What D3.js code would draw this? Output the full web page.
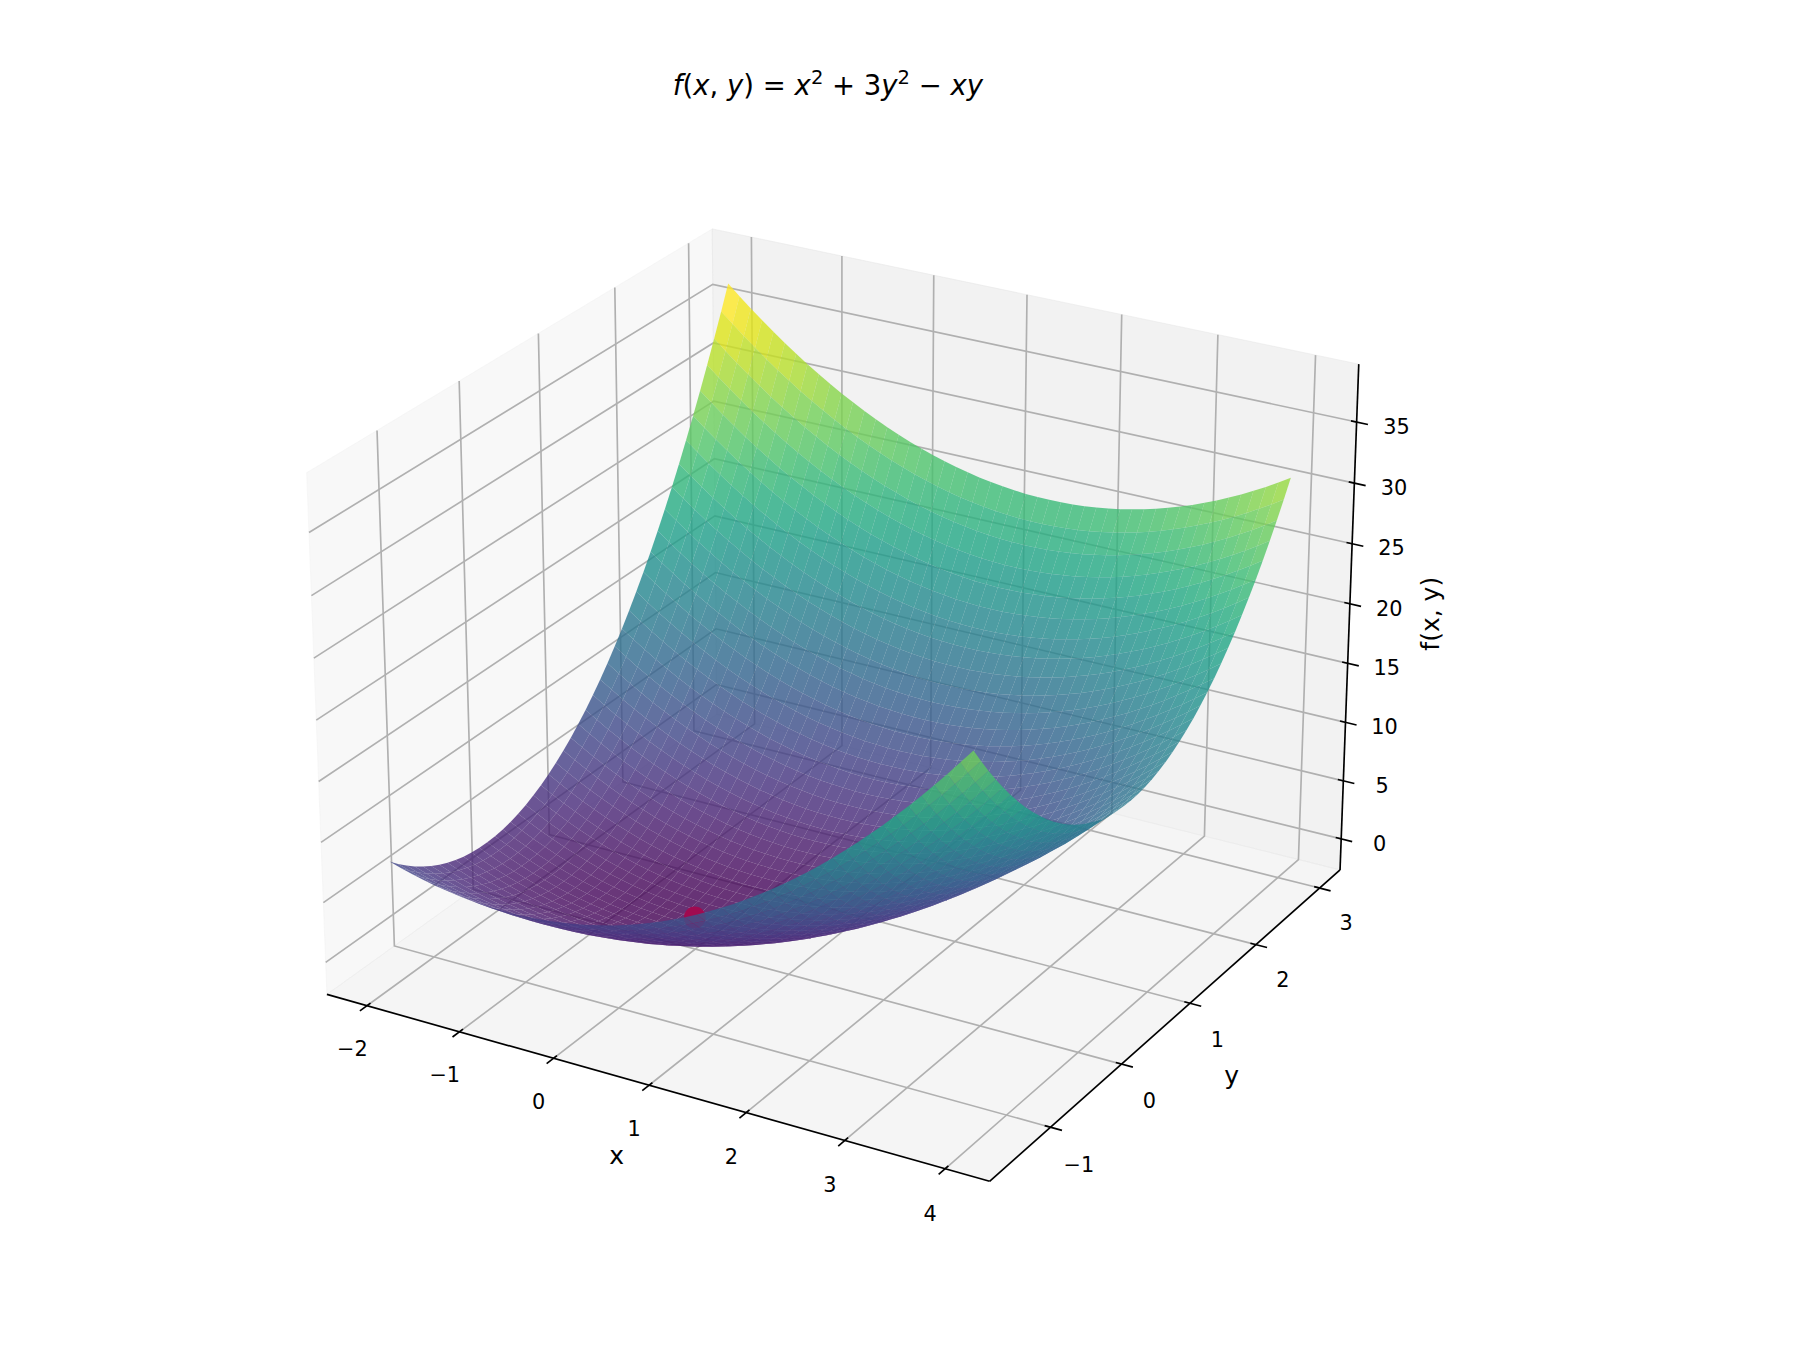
<!DOCTYPE html>
<html><head><meta charset="utf-8">
<style>html,body{margin:0;background:#fff}svg{display:block}text{font-family:"DejaVu Sans";fill:#000}</style>
<script src="https://d3js.org/d3.v7.min.js"></script></head><body>
<svg id="c" width="1800" height="1350"></svg>
<script>
const xGrid=[-2,-1.875,-1.75,-1.625,-1.5,-1.375,-1.25,-1.125,-1,-.875,-.75,-.625,-.5,-.375,-.25,-.125,0,.125,.25,.375,.5,.625,.75,.875,1,1.125,1.25,1.375,1.5,1.625,1.75,1.875,2,2.125,2.25,2.375,2.5,2.625,2.75,2.875,3,3.125,3.25,3.375,3.5,3.625,3.75,3.875,4];
const yGrid=[-1.5,-1.4,-1.3,-1.2,-1.1,-1,-.9,-.8,-.7,-.6,-.5,-.4,-.3,-.2,-.1,0,.1,.2,.3,.4,.5,.6,.7,.8,.9,1,1.1,1.2,1.3,1.4,1.5,1.6,1.7,1.8,1.9,2,2.1,2.2,2.3,2.4,2.5,2.6,2.7,2.8,2.9,3];
const zGrid=[
[7.75,7.45,7.19,6.95,6.75,6.58,6.44,6.33,6.25,6.2,6.19,6.2,6.25,6.33,6.44,6.58,6.75,6.95,7.19,7.45,7.75,8.08,8.44,8.83,9.25,9.7,10.19,10.7,11.25,11.83,12.44,13.08,13.75,14.45,15.19,15.95,16.75,17.58,18.44,19.33,20.25,21.2,22.19,23.2,24.25,25.33,26.44,27.58,28.75],
[7.08,6.77,6.49,6.25,6.03,5.85,5.69,5.57,5.48,5.42,5.39,5.4,5.43,5.5,5.59,5.72,5.88,6.07,6.29,6.55,6.83,7.15,7.49,7.87,8.28,8.72,9.19,9.7,10.23,10.8,11.39,12.02,12.68,13.37,14.09,14.85,15.63,16.45,17.29,18.17,19.08,20.02,20.99,22,23.03,24.1,25.19,26.32,27.48],
[6.47,6.15,5.86,5.6,5.37,5.17,5.01,4.87,4.77,4.7,4.66,4.65,4.67,4.72,4.81,4.93,5.07,5.25,5.46,5.7,5.97,6.27,6.61,6.97,7.37,7.8,8.26,8.75,9.27,9.83,10.41,11.02,11.67,12.35,13.06,13.8,14.57,15.37,16.21,17.07,17.97,18.9,19.86,20.85,21.87,22.93,24.01,25.12,26.27],
[5.92,5.59,5.28,5.01,4.77,4.56,4.38,4.24,4.12,4.04,3.98,3.96,3.97,4.01,4.08,4.19,4.32,4.49,4.68,4.91,5.17,5.46,5.78,6.14,6.52,6.94,7.38,7.86,8.37,8.91,9.48,10.09,10.72,11.39,12.08,12.81,13.57,14.36,15.18,16.04,16.92,17.84,18.78,19.76,20.77,21.81,22.88,23.99,25.12],
[5.43,5.08,4.77,4.49,4.23,4.01,3.83,3.67,3.53,3.43,3.37,3.33,3.33,3.36,3.42,3.51,3.63,3.79,3.97,4.18,4.43,4.71,5.02,5.36,5.73,6.13,6.57,7.03,7.53,8.06,8.62,9.21,9.83,10.48,11.17,11.88,12.63,13.41,14.22,15.06,15.93,16.83,17.77,18.73,19.73,20.76,21.82,22.91,24.03],
[5,4.64,4.31,4.02,3.75,3.52,3.31,3.14,3,2.89,2.81,2.77,2.75,2.77,2.81,2.89,3,3.14,3.31,3.52,3.75,4.02,4.31,4.64,5,5.39,5.81,6.27,6.75,7.27,7.81,8.39,9,9.64,10.31,11.02,11.75,12.52,13.31,14.14,15,15.89,16.81,17.77,18.75,19.77,20.81,21.89,23],
[4.63,4.26,3.92,3.61,3.33,3.09,2.87,2.69,2.53,2.41,2.32,2.26,2.23,2.23,2.26,2.33,2.43,2.56,2.71,2.91,3.13,3.38,3.67,3.98,4.33,4.71,5.12,5.56,6.03,6.54,7.07,7.64,8.23,8.86,9.52,10.21,10.93,11.68,12.47,13.28,14.13,15,15.92,16.86,17.83,18.83,19.87,20.93,22.03],
[4.32,3.94,3.59,3.27,2.97,2.71,2.48,2.29,2.12,1.99,1.88,1.81,1.77,1.76,1.78,1.84,1.92,2.04,2.18,2.36,2.57,2.81,3.08,3.39,3.72,4.09,4.48,4.91,5.37,5.86,6.38,6.94,7.52,8.14,8.78,9.46,10.17,10.91,11.68,12.49,13.32,14.19,15.08,16.01,16.97,17.96,18.98,20.04,21.12],
[4.07,3.67,3.31,2.98,2.67,2.39,2.15,1.94,1.77,1.62,1.5,1.42,1.37,1.35,1.36,1.41,1.47,1.58,1.71,1.87,2.07,2.3,2.56,2.85,3.17,3.53,3.91,4.32,4.77,5.25,5.76,6.31,6.87,7.48,8.11,8.78,9.47,10.2,10.95,11.74,12.57,13.42,14.3,15.2,16.17,17.14,18.15,19.19,20.27],
[3.88,3.48,3.11,2.76,2.43,2.14,1.89,1.66,1.48,1.3,1.19,1.09,1.03,.99,1,1.03,1.08,1.17,1.29,1.45,1.63,1.85,2.1,2.38,2.68,3.02,3.4,3.8,4.23,4.69,5.19,5.72,6.28,6.87,7.49,8.14,8.83,9.55,10.29,11.07,11.88,12.72,13.59,14.49,15.43,16.39,17.38,18.41,19.48],
[3.75,3.33,2.94,2.58,2.25,1.95,1.69,1.45,1.25,1.08,.94,.83,.75,.7,.69,.7,.75,.83,.94,1.08,1.25,1.45,1.69,1.95,2.25,2.58,2.94,3.33,3.75,4.2,4.69,5.2,5.75,6.33,6.94,7.58,8.25,8.95,9.69,10.45,11.25,12.08,12.94,13.83,14.75,15.7,16.69,17.7,18.75],
[3.68,3.25,2.85,2.47,2.13,1.82,1.54,1.28,1.08,.89,.74,.62,.53,.47,.44,.45,.48,.56,.66,.79,.93,1.12,1.34,1.58,1.88,2.19,2.54,2.92,3.33,3.77,4.24,4.74,5.28,5.85,6.44,7.07,7.73,8.42,9.14,9.89,10.68,11.49,12.34,13.22,14.13,15.07,16.04,17.04,18.08],
[3.67,3.23,2.82,2.44,2.08,1.75,1.45,1.18,.97,.77,.61,.47,.37,.3,.25,.24,.27,.32,.42,.54,.67,.85,1.05,1.29,1.57,1.87,2.21,2.57,2.97,3.4,3.86,4.35,4.87,5.43,6.01,6.63,7.27,7.95,8.65,9.39,10.17,10.97,11.8,12.67,13.57,14.5,15.46,16.45,17.47],
[3.72,3.27,2.84,2.45,2.07,1.74,1.43,1.16,.92,.72,.53,.37,.27,.18,.12,.1,.12,.16,.24,.36,.47,.64,.83,1.06,1.32,1.6,1.93,2.28,2.67,3.08,3.53,4,4.52,5.07,5.63,6.24,6.87,7.54,8.23,8.96,9.72,10.52,11.33,12.19,13.07,14,14.94,15.92,16.92],
[3.83,3.36,2.92,2.51,2.13,1.79,1.47,1.19,.93,.71,.52,.36,.23,.14,.07,.04,.03,.06,.12,.21,.33,.49,.67,.89,1.13,1.41,1.72,2.06,2.43,2.84,3.27,3.74,4.23,4.76,5.32,5.91,6.53,7.19,7.87,8.59,9.33,10.11,10.92,11.76,12.63,13.54,14.47,15.44,16.43],
[4,3.52,3.06,2.64,2.25,1.89,1.56,1.27,1,.77,.56,.39,.25,.14,.06,.02,0,.02,.06,.14,.25,.39,.56,.77,1,1.27,1.56,1.89,2.25,2.64,3.06,3.52,4,4.52,5.06,5.64,6.25,6.89,7.56,8.27,9,9.77,10.56,11.39,12.25,13.14,14.06,15.02,16],
[4.23,3.74,3.27,2.84,2.43,2.06,1.72,1.41,1.13,.89,.67,.49,.33,.21,.12,.06,.03,.04,.07,.14,.23,.36,.52,.71,.93,1.19,1.47,1.79,2.13,2.51,2.92,3.36,3.83,4.34,4.87,5.44,6.03,6.66,7.32,8.01,8.73,9.49,10.27,11.09,11.93,12.81,13.72,14.66,15.63],
[4.52,4.01,3.53,3.09,2.67,2.28,1.93,1.6,1.32,1.06,.83,.64,.47,.36,.24,.16,.12,.1,.12,.16,.27,.37,.53,.72,.92,1.16,1.43,1.74,2.07,2.45,2.84,3.27,3.72,4.22,4.73,5.29,5.87,6.48,7.13,7.8,8.52,9.27,10.03,10.84,11.67,12.54,13.43,14.37,15.32],
[4.87,4.35,3.86,3.4,2.97,2.57,2.21,1.87,1.57,1.29,1.05,.85,.67,.54,.42,.32,.27,.24,.25,.3,.37,.47,.61,.77,.97,1.18,1.45,1.75,2.08,2.44,2.82,3.23,3.67,4.16,4.67,5.19,5.77,6.36,6.99,7.65,8.37,9.07,9.82,10.59,11.42,12.24,13.12,14.03,14.97],
[5.28,4.74,4.24,3.77,3.33,2.92,2.54,2.19,1.88,1.58,1.34,1.12,.93,.79,.66,.56,.48,.45,.44,.47,.53,.62,.74,.89,1.08,1.28,1.54,1.82,2.13,2.47,2.85,3.25,3.68,4.15,4.64,5.18,5.73,6.32,6.94,7.59,8.28,8.99,9.74,10.52,11.33,12.17,13.04,13.94,14.88],
[5.75,5.2,4.69,4.2,3.75,3.33,2.94,2.58,2.25,1.95,1.69,1.45,1.25,1.08,.94,.83,.75,.7,.69,.7,.75,.83,.94,1.08,1.25,1.45,1.69,1.95,2.25,2.58,2.94,3.33,3.75,4.2,4.69,5.2,5.75,6.33,6.94,7.58,8.25,8.95,9.69,10.45,11.25,12.08,12.94,13.83,14.75],
[6.28,5.72,5.19,4.69,4.23,3.8,3.4,3.02,2.68,2.38,2.1,1.85,1.63,1.45,1.29,1.17,1.08,1.03,1,.99,1.03,1.09,1.19,1.3,1.48,1.66,1.89,2.14,2.43,2.76,3.11,3.48,3.88,4.32,4.79,5.3,5.83,6.4,7,7.63,8.28,8.97,9.69,10.44,11.23,12.04,12.88,13.76,14.68],
[6.87,6.31,5.76,5.25,4.77,4.32,3.91,3.53,3.17,2.85,2.56,2.3,2.07,1.87,1.71,1.58,1.47,1.41,1.36,1.35,1.37,1.42,1.5,1.62,1.77,1.94,2.15,2.39,2.67,2.98,3.31,3.67,4.07,4.5,4.96,5.46,5.97,6.52,7.11,7.72,8.37,9.04,9.75,10.49,11.27,12.07,12.9,13.77,14.67],
[7.52,6.94,6.38,5.86,5.37,4.91,4.48,4.09,3.72,3.39,3.08,2.81,2.57,2.36,2.18,2.04,1.92,1.84,1.78,1.76,1.77,1.81,1.88,1.99,2.12,2.29,2.48,2.71,2.97,3.27,3.59,3.94,4.32,4.74,5.18,5.66,6.17,6.71,7.28,7.89,8.52,9.19,9.88,10.61,11.37,12.16,12.98,13.84,14.72],
[8.23,7.64,7.07,6.54,6.03,5.56,5.12,4.71,4.33,3.98,3.67,3.38,3.13,2.91,2.71,2.56,2.43,2.33,2.26,2.23,2.23,2.26,2.32,2.41,2.53,2.69,2.87,3.09,3.33,3.61,3.92,4.26,4.63,5.03,5.47,5.93,6.43,6.96,7.52,8.11,8.73,9.39,10.07,10.79,11.53,12.31,13.12,13.96,14.83],
[9,8.39,7.81,7.27,6.75,6.27,5.81,5.39,5,4.64,4.31,4.02,3.75,3.52,3.31,3.14,3,2.89,2.81,2.77,2.75,2.77,2.81,2.89,3,3.14,3.31,3.52,3.75,4.02,4.31,4.64,5,5.39,5.81,6.27,6.75,7.27,7.81,8.39,9,9.64,10.31,11.02,11.75,12.52,13.31,14.14,15],
[9.83,9.21,8.62,8.06,7.53,7.03,6.57,6.13,5.73,5.36,5.02,4.71,4.43,4.18,3.97,3.79,3.63,3.51,3.42,3.36,3.33,3.33,3.37,3.43,3.53,3.67,3.83,4.01,4.23,4.49,4.77,5.08,5.43,5.81,6.22,6.66,7.13,7.63,8.17,8.73,9.33,9.96,10.62,11.31,12.03,12.78,13.57,14.38,15.23],
[10.72,10.09,9.48,8.91,8.37,7.86,7.38,6.94,6.52,6.14,5.78,5.46,5.17,4.91,4.68,4.49,4.32,4.19,4.08,4.01,3.97,3.96,3.98,4.04,4.12,4.24,4.38,4.56,4.77,5.01,5.28,5.59,5.92,6.29,6.68,7.11,7.57,8.06,8.58,9.14,9.72,10.34,10.98,11.66,12.37,13.11,13.88,14.69,15.52],
[11.67,11.02,10.41,9.83,9.27,8.75,8.26,7.8,7.37,6.97,6.61,6.27,5.97,5.7,5.46,5.25,5.07,4.93,4.81,4.72,4.67,4.65,4.66,4.7,4.77,4.87,5.01,5.17,5.37,5.6,5.86,6.15,6.47,6.82,7.21,7.63,8.07,8.55,9.06,9.6,10.17,10.77,11.41,12.07,12.77,13.5,14.26,15.05,15.87],
[12.68,12.02,11.39,10.8,10.23,9.7,9.19,8.72,8.28,7.87,7.49,7.15,6.83,6.55,6.29,6.07,5.88,5.72,5.59,5.5,5.43,5.4,5.39,5.42,5.48,5.57,5.69,5.85,6.03,6.25,6.49,6.77,7.08,7.42,7.79,8.2,8.63,9.1,9.59,10.12,10.68,11.27,11.89,12.55,13.23,13.95,14.69,15.47,16.28],
[13.75,13.08,12.44,11.83,11.25,10.7,10.19,9.7,9.25,8.83,8.44,8.08,7.75,7.45,7.19,6.95,6.75,6.58,6.44,6.33,6.25,6.2,6.19,6.2,6.25,6.33,6.44,6.58,6.75,6.95,7.19,7.45,7.75,8.08,8.44,8.83,9.25,9.7,10.19,10.7,11.25,11.83,12.44,13.08,13.75,14.45,15.19,15.95,16.75],
[14.88,14.2,13.55,12.92,12.33,11.77,11.24,10.75,10.28,9.85,9.44,9.07,8.73,8.42,8.14,7.9,7.68,7.5,7.34,7.22,7.13,7.07,7.04,7.05,7.08,7.15,7.24,7.37,7.53,7.72,7.94,8.19,8.48,8.79,9.14,9.52,9.93,10.37,10.84,11.35,11.88,12.45,13.04,13.67,14.33,15.02,15.74,16.49,17.28],
[16.07,15.37,14.71,14.07,13.47,12.9,12.36,11.85,11.37,10.92,10.51,10.12,9.77,9.45,9.16,8.9,8.67,8.47,8.31,8.17,8.07,8,7.96,7.95,7.97,8.02,8.11,8.22,8.37,8.55,8.76,9,9.27,9.57,9.91,10.27,10.67,11.1,11.56,12.05,12.57,13.12,13.71,14.32,14.97,15.65,16.36,17.1,17.87],
[17.32,16.61,15.93,15.29,14.67,14.09,13.53,13.01,12.52,12.06,11.63,11.24,10.87,10.54,10.23,9.96,9.72,9.51,9.33,9.19,9.07,8.99,8.93,8.91,8.92,8.96,9.03,9.14,9.27,9.44,9.63,9.86,10.12,10.41,10.73,11.09,11.47,11.89,12.33,12.81,13.32,13.86,14.43,15.04,15.67,16.34,17.03,17.76,18.52],
[18.63,17.91,17.22,16.56,15.93,15.34,14.77,14.24,13.73,13.26,12.82,12.41,12.03,11.69,11.37,11.09,10.83,10.61,10.42,10.26,10.13,10.04,9.97,9.94,9.93,9.96,10.02,10.11,10.23,10.39,10.57,10.79,11.03,11.31,11.62,11.96,12.33,12.74,13.17,13.64,14.13,14.66,15.22,15.81,16.43,17.09,17.77,18.49,19.23],
[20,19.27,18.56,17.89,17.25,16.64,16.06,15.52,15,14.52,14.06,13.64,13.25,12.89,12.56,12.27,12,11.77,11.56,11.39,11.25,11.14,11.06,11.02,11,11.02,11.06,11.14,11.25,11.39,11.56,11.77,12,12.27,12.56,12.89,13.25,13.64,14.06,14.52,15,15.52,16.06,16.64,17.25,17.89,18.56,19.27,20],
[21.43,20.69,19.97,19.29,18.63,18.01,17.42,16.86,16.33,15.84,15.37,14.94,14.53,14.16,13.82,13.51,13.23,12.99,12.77,12.59,12.43,12.31,12.22,12.16,12.13,12.14,12.17,12.24,12.33,12.46,12.62,12.81,13.03,13.29,13.57,13.89,14.23,14.61,15.02,15.46,15.93,16.44,16.97,17.54,18.13,18.76,19.42,20.11,20.83],
[22.92,22.16,21.43,20.74,20.07,19.44,18.83,18.26,17.72,17.21,16.73,16.29,15.87,15.49,15.13,14.81,14.52,14.26,14.03,13.84,13.67,13.54,13.43,13.36,13.32,13.31,13.33,13.39,13.47,13.59,13.73,13.91,14.12,14.36,14.63,14.94,15.27,15.64,16.03,16.46,16.92,17.41,17.93,18.49,19.07,19.69,20.33,21.01,21.72],
[24.47,23.7,22.96,22.25,21.57,20.93,20.31,19.73,19.17,18.65,18.16,17.7,17.27,16.88,16.51,16.18,15.87,15.6,15.36,15.15,14.97,14.83,14.71,14.63,14.57,14.55,14.56,14.6,14.67,14.78,14.91,15.08,15.27,15.5,15.76,16.05,16.37,16.73,17.11,17.53,17.97,18.45,18.96,19.5,20.07,20.68,21.31,21.98,22.67],
[26.08,25.3,24.54,23.82,23.13,22.47,21.84,21.25,20.68,20.15,19.64,19.17,18.73,18.32,17.94,17.6,17.28,17,16.74,16.52,16.33,16.17,16.04,15.95,15.88,15.85,15.84,15.87,15.93,16.02,16.14,16.3,16.48,16.7,16.94,17.22,17.53,17.87,18.24,18.65,19.08,19.55,20.04,20.57,21.13,21.72,22.34,23,23.68],
[27.75,26.95,26.19,25.45,24.75,24.08,23.44,22.83,22.25,21.7,21.19,20.7,20.25,19.83,19.44,19.08,18.75,18.45,18.19,17.95,17.75,17.58,17.44,17.33,17.25,17.2,17.19,17.2,17.25,17.33,17.44,17.58,17.75,17.95,18.19,18.45,18.75,19.08,19.44,19.83,20.25,20.7,21.19,21.7,22.25,22.83,23.44,24.08,24.75],
[29.48,28.67,27.89,27.15,26.43,25.75,25.09,24.47,23.88,23.32,22.79,22.3,21.83,21.4,20.99,20.62,20.28,19.97,19.69,19.45,19.23,19.05,18.89,18.77,18.68,18.62,18.59,18.6,18.63,18.7,18.79,18.92,19.08,19.27,19.49,19.75,20.03,20.35,20.69,21.07,21.48,21.92,22.39,22.9,23.43,24,24.59,25.22,25.88],
[31.27,30.45,29.66,28.9,28.17,27.48,26.81,26.18,25.57,25,24.46,23.95,23.47,23.03,22.61,22.23,21.87,21.55,21.26,21,20.77,20.58,20.41,20.28,20.17,20.1,20.06,20.05,20.07,20.13,20.21,20.33,20.47,20.65,20.86,21.1,21.37,21.68,22.01,22.38,22.77,23.2,23.66,24.15,24.67,25.23,25.81,26.43,27.07],
[33.12,32.29,31.48,30.71,29.97,29.26,28.58,27.94,27.32,26.74,26.18,25.66,25.17,24.71,24.28,23.89,23.52,23.19,22.88,22.61,22.37,22.16,21.98,21.84,21.72,21.64,21.58,21.56,21.57,21.61,21.68,21.79,21.92,22.09,22.28,22.51,22.77,23.06,23.38,23.74,24.12,24.54,24.98,25.46,25.97,26.51,27.08,27.69,28.32],
[35.03,34.19,33.37,32.59,31.83,31.11,30.42,29.76,29.13,28.54,27.97,27.44,26.93,26.46,26.02,25.61,25.23,24.89,24.57,24.29,24.03,23.81,23.62,23.46,23.33,23.24,23.17,23.14,23.13,23.16,23.22,23.31,23.43,23.59,23.77,23.99,24.23,24.51,24.82,25.16,25.53,25.94,26.37,26.84,27.33,27.86,28.42,29.01,29.63],
[37,36.14,35.31,34.52,33.75,33.02,32.31,31.64,31,30.39,29.81,29.27,28.75,28.27,27.81,27.39,27,26.64,26.31,26.02,25.75,25.52,25.31,25.14,25,24.89,24.81,24.77,24.75,24.77,24.81,24.89,25,25.14,25.31,25.52,25.75,26.02,26.31,26.64,27,27.39,27.81,28.27,28.75,29.27,29.81,30.39,31]];
const xTicks=[-2,-1,0,1,2,3,4], yTicks=[-1,0,1,2,3], zTicks=[0,5,10,15,20,25,30,35];
const minimum=[[0,0,0]];
const xLim=[-2.4375,4.4375], yLim=[-1.828,3.328], zLim=[-2.6958,39.6958];

const SCALE=6345, CX=843.3, CY=679;
const svg=d3.select('#c');
const spans=[xLim,yLim,zLim];
const box=[4,4,3].map(a=>a*1.8294640721620434*25/24/Math.hypot(4,4,3));
const el=25*Math.PI/180, az=-60*Math.PI/180;
const w=[Math.cos(el)*Math.cos(az),Math.cos(el)*Math.sin(az),Math.sin(el)];
const cross=(a,b)=>[a[1]*b[2]-a[2]*b[1],a[2]*b[0]-a[0]*b[2],a[0]*b[1]-a[1]*b[0]];
const dot=(a,b)=>a[0]*b[0]+a[1]*b[1]+a[2]*b[2];
let u=cross([0,0,1],w);const ul=Math.hypot(...u);u=u.map(d=>d/ul);const v=cross(w,u);
const R=box.map(b=>b/2), eye=R.map((r,i)=>r+10*w[i]);
const wsc=spans.map((s,i)=>d3.scaleLinear().domain(s).range([0,box[i]]));
function proj(p){const q=p.map((d,i)=>wsc[i](d)-eye[i]);const zc=dot(w,q);
  return {x:CX+SCALE*dot(u,q)/(-zc),y:CY-SCALE*dot(v,q)/(-zc),d:-zc};}
const line=pts=>'M'+pts.map(p=>{const q=proj(p);return q.x.toFixed(2)+','+q.y.toFixed(2)}).join('L');
const [x0,x1]=xLim,[y0,y1]=yLim,[z0,z1]=zLim;
const paneG=svg.append('g');
[{c:[[x0,y0,z0],[x0,y1,z0],[x0,y1,z1],[x0,y0,z1]],f:'rgba(242,242,242,0.5)'},
 {c:[[x0,y1,z0],[x1,y1,z0],[x1,y1,z1],[x0,y1,z1]],f:'rgba(230,230,230,0.5)'},
 {c:[[x0,y0,z0],[x1,y0,z0],[x1,y1,z0],[x0,y1,z0]],f:'rgba(236,236,236,0.5)'}]
 .forEach(p=>paneG.append('path').attr('d',line(p.c)+'Z').attr('fill',p.f).attr('stroke',p.f).attr('stroke-width',1));
const gridG=svg.append('g').attr('fill','none').attr('stroke','#b0b0b0').attr('stroke-width',1.67);
xTicks.forEach(t=>gridG.append('path').attr('d',line([[t,y0,z0],[t,y1,z0],[t,y1,z1]])));
yTicks.forEach(t=>gridG.append('path').attr('d',line([[x1,t,z0],[x0,t,z0],[x0,t,z1]])));
zTicks.forEach(t=>gridG.append('path').attr('d',line([[x0,y0,t],[x0,y1,t],[x1,y1,t]])));
const axG=svg.append('g').attr('fill','none').attr('stroke','#000').attr('stroke-width',1.67);
axG.append('path').attr('d',line([[x0,y0,z0],[x1,y0,z0]]));
axG.append('path').attr('d',line([[x1,y0,z0],[x1,y1,z0]]));
axG.append('path').attr('d',line([[x1,y1,z0],[x1,y1,z1]]));
const D=spans.map(s=>(s[1]-s[0])/12);
const txt=svg.append('g').attr('font-size',20.83).attr('text-anchor','middle').attr('dominant-baseline','central');
const fmt=t=>String(t).replace('-','\u2212');
function tick(a,b,pos,t,dx,dy){const q=proj(pos);txt.append('text').attr('x',q.x+dx).attr('y',q.y+dy).text(fmt(t));axG.append('path').attr('d',line([a,b]));}
xTicks.forEach(t=>tick([t,y0-.2*D[1],z0],[t,y0+.1*D[1],z0],[t,y0-.35*D[1],z0-.74*D[2]],t,-3.4,3));
yTicks.forEach(t=>tick([x1+.2*D[0],t,z0],[x1-.1*D[0],t,z0],[x1+.5*D[0],t,z0-.63*D[2]],t,0,2.5));
zTicks.forEach(t=>tick([x1+.2*D[0],y1,t],[x1-.1*D[0],y1,t],[x1+.63*D[0],y1+.15*D[1],t],t,0,0));
const lab=svg.append('g').attr('font-size',25).attr('text-anchor','middle').attr('dominant-baseline','central');
let q=proj([(x0+x1)/2,y0-1*D[1],z0-1*D[2]]);lab.append('text').attr('x',q.x+1).attr('y',q.y).text('x');
q=proj([x1+1*D[0],(y0+y1)/2,z0-1*D[2]]);lab.append('text').attr('x',q.x+3).attr('y',q.y).text('y');
q=proj([x1+.95*D[0],y1+1*D[1],(z0+z1)/2]);lab.append('text').attr('transform',`translate(${q.x+2},${q.y+2}) rotate(-90)`).text('f(x, y)');
const faces=[];
for(let j=0;j<yGrid.length-1;j++)for(let i=0;i<xGrid.length-1;i++){
  const c=[[xGrid[i],yGrid[j],zGrid[j][i]],[xGrid[i+1],yGrid[j],zGrid[j][i+1]],[xGrid[i+1],yGrid[j+1],zGrid[j+1][i+1]],[xGrid[i],yGrid[j+1],zGrid[j+1][i]]];
  faces.push({c,z:d3.mean(c,p=>p[2]),d:d3.mean(c,p=>proj(p).d)});}
const color=d3.scaleSequential(d3.interpolateViridis).domain(d3.extent(faces,f=>f.z));
const pt=proj(minimum[0]);
const items=faces.concat([{dotp:pt,d:pt.d-.06}]).sort((a,b)=>b.d-a.d);
const sg=svg.append('g');
items.forEach(f=>{
  if(f.dotp) sg.append('circle').attr('cx',f.dotp.x).attr('cy',f.dotp.y).attr('r',10.9).attr('fill','#a00a50');
  else sg.append('path').attr('d',line(f.c)+'Z').attr('fill',color(f.z)).attr('fill-opacity',.8);
});
const t=svg.append('text').attr('x',828).attr('y',95).attr('text-anchor','middle').attr('font-size',27.5);
const seg=[['f',1],['(',0],['x',1],[', ',0],['y',1],[')',0],[' = ',0],['x',1],['2',2],[' + 3',0],['y',1],['2',2],[' \u2212 ',0],['x',1],['y',1]];
let prevSup=false;
seg.forEach(([s,k])=>{const ts=t.append('tspan').text(s);
  if(k===1)ts.attr('font-style','oblique');
  if(k===2){ts.attr('font-size',19.5).attr('dy',-11);}
  else if(prevSup)ts.attr('dy',11);
  prevSup=k===2;});
</script></body></html>
